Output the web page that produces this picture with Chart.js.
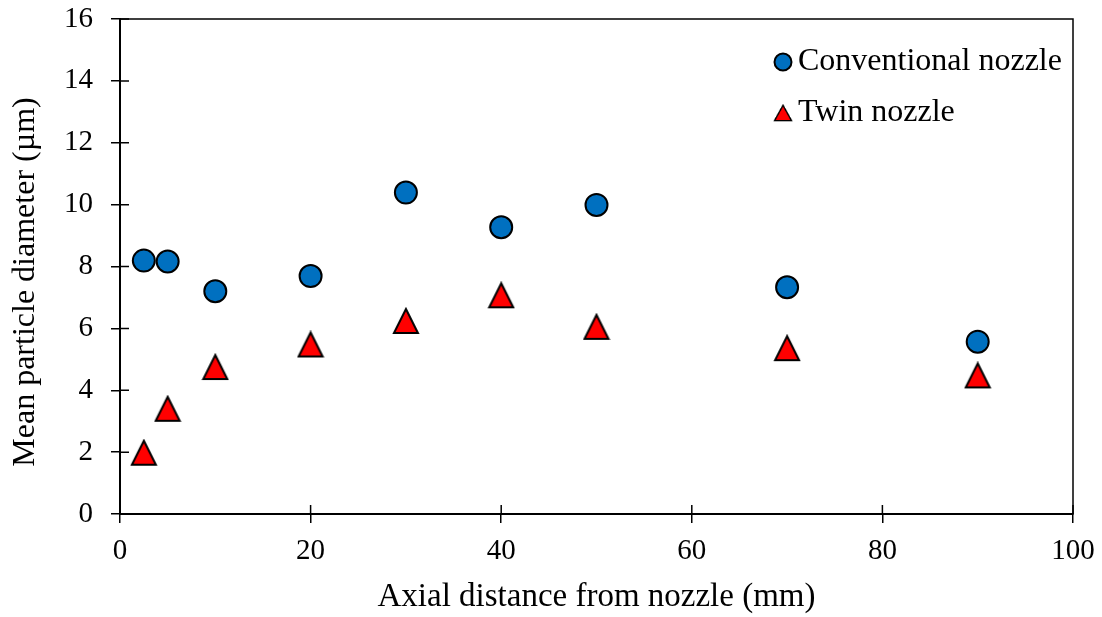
<!DOCTYPE html>
<html>
<head>
<meta charset="utf-8">
<script src="https://cdn.jsdelivr.net/npm/chart.js@4.4.1/dist/chart.umd.min.js"></script>
<style>
  html, body { margin: 0; padding: 0; background: #fff; }
  #wrap { width: 1102px; height: 617px; }
</style>
</head>
<body>
<div id="wrap"><canvas id="grafico" width="1102" height="617"></canvas></div>
<script>
// datos
const distancias = [2.5, 5, 10, 20, 30, 40, 50, 70, 90];
const convencional = [8.19, 8.16, 7.2, 7.69, 10.39, 9.27, 9.99, 7.33, 5.57];
const gemela = [1.98, 3.4, 4.75, 5.48, 6.24, 7.07, 6.05, 5.36, 4.48];
const nombres = ["Conventional nozzle", "Twin nozzle"];
const ticksX = [0, 20, 40, 60, 80, 100];
const ticksY = [0, 2, 4, 6, 8, 10, 12, 14, 16];
const tituloY = "Mean particle diameter (µm)";

const FUENTE = "'Liberation Serif', 'Times New Roman', serif";
const AZUL = "#0070C0";
const ROJO = "#FF0000";

// triangulo estilo Excel (caja cuadrada)
function hacerTriangulo(lado, borde) {
    const c = document.createElement("canvas");
    c.width = lado + 4;
    c.height = lado + 4;
    const g = c.getContext("2d");
    const m = 2;
    g.beginPath();
    g.moveTo(c.width / 2, m);
    g.lineTo(c.width - m, c.height - m);
    g.lineTo(m, c.height - m);
    g.closePath();
    g.fillStyle = ROJO;
    g.fill();
    g.lineWidth = borde;
    g.strokeStyle = "#000";
    g.lineJoin = "miter";
    g.stroke();
    return c;
}
const trianguloGrande = hacerTriangulo(24, 2);

const puntos = (xs, ys) => xs.map((x, i) => ({ x: x, y: ys[i] }));

// marco, marcas interiores, titulo Y y leyenda
const extras = {
    id: "extras",
    beforeDatasetsDraw(chart) {
        const { ctx, chartArea: a, scales } = chart;
        ctx.save();
        ctx.strokeStyle = "#000";
        ctx.lineWidth = 1.5;
        ctx.strokeRect(a.left, a.top, a.right - a.left, a.bottom - a.top);
        ctx.beginPath();
        ticksX.forEach(v => {
            const px = scales.x.getPixelForValue(v);
            ctx.moveTo(px, a.bottom);
            ctx.lineTo(px, a.bottom - 9);
        });
        ticksY.forEach(v => {
            const py = scales.y.getPixelForValue(v);
            ctx.moveTo(a.left, py);
            ctx.lineTo(a.left + 9, py);
        });
        ctx.stroke();

        // titulo del eje Y (un poco mas abajo que el centro del area)
        ctx.translate(26, 282);
        ctx.rotate(-Math.PI / 2);
        ctx.fillStyle = "#000";
        ctx.font = "32px " + FUENTE;
        ctx.textAlign = "center";
        ctx.textBaseline = "middle";
        ctx.fillText(tituloY, 0, 0);
        ctx.restore();
    },
    afterDraw(chart) {
        const { ctx } = chart;
        ctx.save();
        // circulo
        ctx.beginPath();
        ctx.arc(783, 62, 8.5, 0, Math.PI * 2);
        ctx.fillStyle = AZUL;
        ctx.fill();
        ctx.lineWidth = 2;
        ctx.strokeStyle = "#000";
        ctx.stroke();
        // triangulo
        ctx.drawImage(trianguloGrande, 783 - 10, 113 - 9, 20, 18);
        ctx.fillStyle = "#000";
        ctx.font = "32px " + FUENTE;
        ctx.textBaseline = "middle";
        ctx.textAlign = "left";
        ctx.fillText(nombres[0], 798, 62);
        ctx.fillText(nombres[1], 798, 113);
        ctx.restore();
    }
};

new Chart(document.getElementById("grafico"), {
    type: "scatter",
    data: {
        datasets: [
            {
                label: nombres[0],
                data: puntos(distancias, convencional),
                pointStyle: "circle",
                pointRadius: 11,
                pointHoverRadius: 11,
                backgroundColor: AZUL,
                borderColor: "#000",
                pointBorderWidth: 2
            },
            {
                label: nombres[1],
                data: puntos(distancias, gemela),
                pointStyle: trianguloGrande,
                pointRadius: 12,
                backgroundColor: ROJO,
                borderColor: "#000"
            }
        ]
    },
    options: {
        responsive: false,
        animation: false,
        events: [],
        layout: { padding: { top: 19, right: 29, left: 0, bottom: 0 } },
        plugins: {
            legend: { display: false },
            tooltip: { enabled: false }
        },
        scales: {
            x: {
                type: "linear",
                min: 0,
                max: 100,
                afterFit(s) { s.height = 103; s.paddingLeft = 0; s.paddingRight = 0; },
                afterBuildTicks(s) { s.ticks = ticksX.map(v => ({ value: v })); },
                grid: { drawOnChartArea: false, drawTicks: true, tickLength: 9, color: "#000", lineWidth: 1.5 },
                border: { display: true, color: "#000", width: 2 },
                ticks: { color: "#000", padding: 11, font: { family: FUENTE, size: 29 } },
                title: {
                    display: true,
                    text: "Axial distance from nozzle (mm)",
                    color: "#000",
                    font: { family: FUENTE, size: 33 },
                    padding: { top: 0, bottom: 0 }
                }
            },
            y: {
                type: "linear",
                min: 0,
                max: 16,
                afterFit(s) { s.width = 120; s.paddingTop = 0; s.paddingBottom = 0; },
                afterBuildTicks(s) { s.ticks = ticksY.map(v => ({ value: v })); },
                grid: { drawOnChartArea: false, drawTicks: true, tickLength: 9, color: "#000", lineWidth: 1.5 },
                border: { display: true, color: "#000", width: 2 },
                ticks: { color: "#000", padding: 18, font: { family: FUENTE, size: 29 } },
                title: { display: false }
            }
        }
    },
    plugins: [extras]
});
</script>
</body>
</html>
